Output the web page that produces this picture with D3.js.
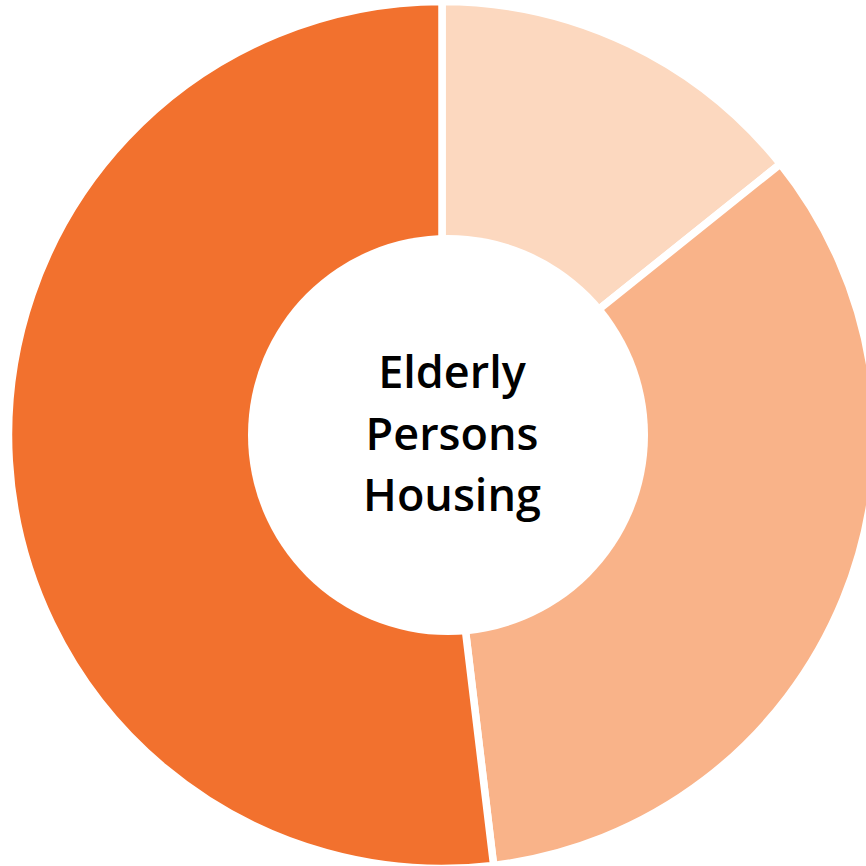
<!DOCTYPE html>
<html lang="en">
<head>
    <meta charset="UTF-8">
    <title>Elderly Persons Housing</title>
    <script src="https://cdn.jsdelivr.net/npm/d3@7"></script>
    <style>
        body { margin: 0; background: #fff; overflow: hidden; }
        .label { font-family: "Open Sans", sans-serif; font-weight: 600; font-size: 45px; fill: #000; }
    </style>
</head>
<body>
<svg id="chart" width="866" height="866"></svg>
<script>
    // shares of the ring, clockwise from 12 o'clock
    var categories = ["Group A", "Group B", "Group C"];
    var values = [14.25, 33.85, 51.9];
    var colors = ["#FCD8BF", "#F9B389", "#F2712E"];
    var titleLines = ["Elderly", "Persons", "Housing"];

    var svg = d3.select("#chart");
    var cx = 442, cy = 435;

    var pie = d3.pie().sort(null).value(function (d) { return d; });
    var arc = d3.arc().innerRadius(0).outerRadius(433.5);

    var color = d3.scaleOrdinal().domain(categories).range(colors);

    svg.append("g")
        .attr("transform", "translate(" + cx + "," + cy + ")")
        .selectAll("path")
        .data(pie(values))
        .enter()
        .append("path")
        .attr("d", arc)
        .attr("fill", function (d, i) { return color(categories[i]); })
        .attr("stroke", "#fff")
        .attr("stroke-width", 7.5)
        .attr("stroke-linejoin", "miter");

    // hole in the middle
    svg.append("circle")
        .attr("cx", 448)
        .attr("cy", cy)
        .attr("r", 200)
        .attr("fill", "#fff");

    var text = svg.append("text")
        .attr("class", "label")
        .attr("text-anchor", "middle");

    text.selectAll("tspan")
        .data(titleLines)
        .enter()
        .append("tspan")
        .attr("x", 452)
        .attr("y", function (d, i) { return 388 + i * 61.5; })
        .text(function (d) { return d; });
</script>
</body>
</html>
